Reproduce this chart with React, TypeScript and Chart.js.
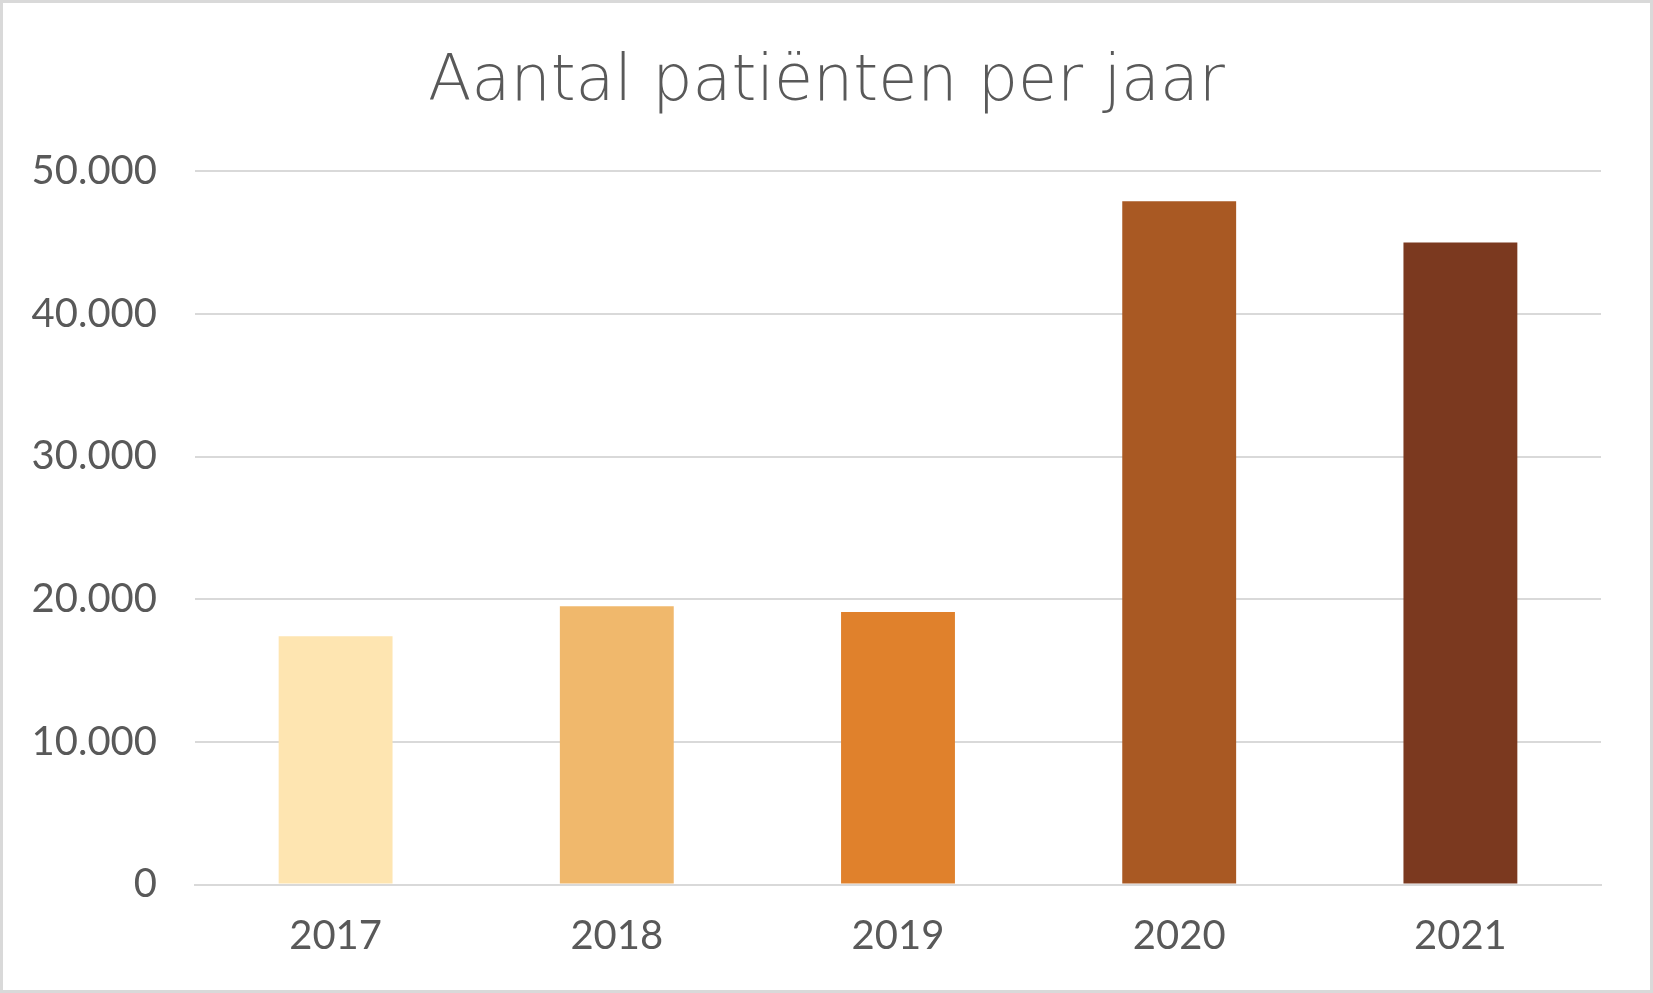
import React, { useEffect, useRef } from "react";
import { Chart, registerables } from "chart.js";

Chart.register(...registerables);

const titleText = "Aantal patiënten per jaar";
const years = ["2017", "2018", "2019", "2020", "2021"];
const patients = [17400, 19500, 19100, 47900, 45000];
const barColors = ["#FEE5B1", "#F0B86C", "#E0812C", "#A95923", "#7B391F"];
const yMax = 50000;
const yStep = 10000;

const fmt = (v: number) => String(Math.round(v)).replace(/\B(?=(\d{3})+(?!\d))/g, ".");

const framePlugin = {
  id: "frame",
  beforeDraw(chart: any) {
    const { ctx, width, height } = chart;
    ctx.save();
    ctx.fillStyle = "#FFFFFF";
    ctx.fillRect(0, 0, width, height);
    ctx.restore();
  },
  afterDraw(chart: any) {
    const { ctx, width, height } = chart;
    ctx.save();
    ctx.strokeStyle = "#D9D9D9";
    ctx.lineWidth = 3;
    ctx.strokeRect(1.5, 1.5, width - 3, height - 3);
    ctx.restore();
  },
};

export default function App() {
  const ref = useRef<HTMLCanvasElement | null>(null);
  useEffect(() => {
    if (!ref.current) return;
    const chart = new Chart(ref.current, {
      type: "bar",
      data: {
        labels: years,
        datasets: [
          {
            data: patients,
            backgroundColor: barColors,
            borderWidth: 0,
            barPercentage: 0.405,
            categoryPercentage: 1,
            yAxisID: "y",
          },
        ],
      },
      options: {
        animation: false,
        responsive: false,
        maintainAspectRatio: false,
        layout: { padding: { left: 0, right: 0, top: 0, bottom: 0 } },
        plugins: {
          legend: { display: false },
          tooltip: { enabled: false },
          title: {
            display: true,
            text: titleText,
            color: "#595959",
            font: { family: "'DejaVu Sans'", size: 63.5, weight: "200", lineHeight: 1.2 },
            padding: { top: 45, bottom: 50 },
          },
        },
        scales: {
          x: {
            grid: { display: false, drawTicks: false },
            border: { display: true, color: "#D9D9D9", width: 2 },
            ticks: {
              color: "#595959",
              font: { family: "Lato", size: 40, lineHeight: 1.2 },
              padding: 28,
            },
            afterFit: (s: any) => {
              s.height = 108.5;
            },
          },
          y: {
            position: "left",
            min: 0,
            max: yMax,
            grid: { color: "#D9D9D9", lineWidth: 2, drawTicks: false },
            border: { display: false },
            ticks: {
              stepSize: yStep,
              color: "#595959",
              font: { family: "Lato", size: 40, lineHeight: 1.2 },
              padding: 38,
              callback: (v: any) => fmt(Number(v)),
            },
            afterFit: (s: any) => {
              s.width = 195;
            },
          },
          spacer: {
            type: "linear",
            position: "right",
            display: true,
            grid: { display: false, drawTicks: false },
            border: { display: false },
            ticks: { display: false },
            afterFit: (s: any) => {
              s.width = 52;
            },
          },
        },
      },
      plugins: [framePlugin],
    });
    return () => chart.destroy();
  }, []);
  return (
    <div style={{ position: "fixed", left: 0, top: 0, width: 1653, height: 993 }}>
      <canvas ref={ref} width={1653} height={993} style={{ display: "block" }} />
    </div>
  );
}
